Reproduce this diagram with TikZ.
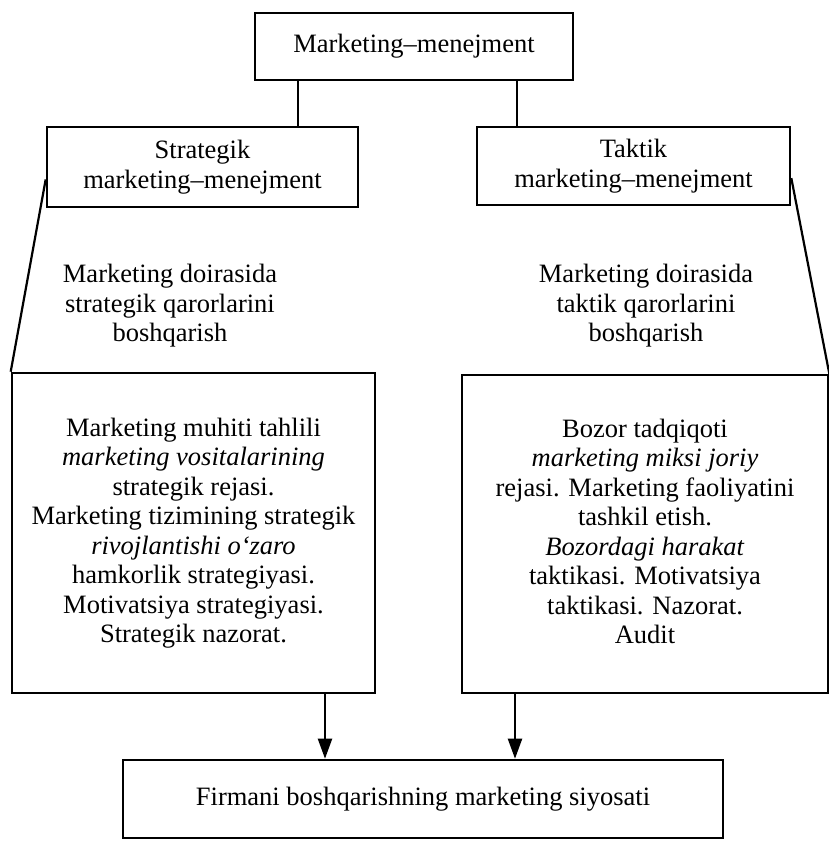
\documentclass[tikz,border=0pt]{standalone}
\usepackage{fontspec}
\setmainfont{Liberation Serif}
\usetikzlibrary{arrows.meta,calc}
\begin{document}
\begin{tikzpicture}[x=1pt,y=-1pt,
  box/.style={draw, line width=2.6pt, inner sep=0pt, align=center,
    font=\fontsize{26.5}{29.5}\selectfont},
  lbl/.style={inner sep=0pt, align=center, font=\fontsize{26.5}{29.5}\selectfont},
  link/.style={line width=2.2pt},
  flow/.style={line width=2.2pt, -{Triangle[length=20pt,width=14pt]}}]
\useasboundingbox (0,0) rectangle (829,841);

% top level
\node[box, minimum width=318pt, minimum height=67pt] (mm) at (414,46.5) {Marketing–menejment};

% second level
\node[box, minimum width=311pt, minimum height=80pt] (sm) at (202.5,167)
  {Strategik\\marketing–menejment};
\node[box, minimum width=313pt, minimum height=78pt] (tm) at (633.5,166)
  {Taktik\\marketing–menejment};

% decision captions
\node[lbl] (sl) at (170,306) {Marketing doirasida\\strategik qarorlarini\\boshqarish};
\node[lbl] (tl) at (646,306) {Marketing doirasida\\taktik qarorlarini\\boshqarish};

% content boxes
\node[box, minimum width=363pt, minimum height=320pt] (ls) at (193.5,533)
  {Marketing muhiti tahlili\\
   \textit{marketing vositalarining}\\
   strategik rejasi.\\
   Marketing tizimining strategik\\
   \textit{rivojlantishi o‘zaro}\\
   hamkorlik strategiyasi.\\
   Motivatsiya strategiyasi.\\
   Strategik nazorat.};
\node[box, minimum width=366pt, minimum height=318pt] (rs) at (645,534)
  {Bozor tadqiqoti\\
   \textit{marketing miksi joriy}\\
   rejasi. Marketing faoliyatini\\
   tashkil etish.\\
   \textit{Bozordagi harakat}\\
   taktikasi. Motivatsiya\\
   taktikasi. Nazorat.\\
   Audit\vphantom{g}};

% result
\node[box, minimum width=600pt, minimum height=78pt] (fb) at (423,799)
  {Firmani boshqarishning marketing siyosati};

% connector columns
\coordinate (ca) at (298,0);
\coordinate (cb) at (517,0);
\coordinate (ar) at (325,0);
\coordinate (br) at (515,0);

\draw[link] (mm.south -| ca) -- (sm.north -| ca);
\draw[link] (mm.south -| cb) -- (tm.north -| cb);
\draw[link] ($(sm.south west)!0.35!(sm.north west)$) -- (ls.north west);
\draw[link] ($(tm.south east)!0.35!(tm.north east)$) -- (rs.north east);

\draw[flow] (ls.south -| ar) -- (fb.north -| ar);
\draw[flow] (rs.south -| br) -- (fb.north -| br);
\end{tikzpicture}
\end{document}
